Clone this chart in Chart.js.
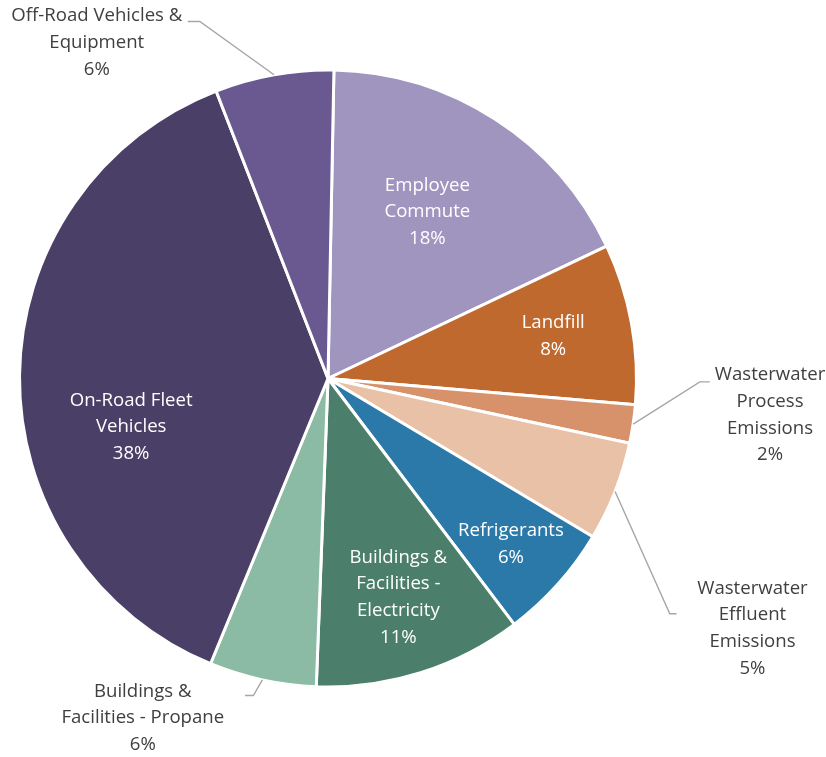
<!DOCTYPE html>
<html>
<head>
<meta charset="utf-8">
<script src="https://cdn.jsdelivr.net/npm/chart.js@4/dist/chart.umd.min.js"></script>
<style>
  html, body { margin: 0; padding: 0; background: #ffffff; }
  #wrap { width: 826px; height: 757px; }
</style>
</head>
<body>
<div id="wrap"><canvas id="pie" width="826" height="757"></canvas></div>
<script>
// Emission sources, clockwise from the top
const categories = [
  'Employee\nCommute',
  'Landfill',
  'Wasterwater\nProcess\nEmissions',
  'Wasterwater\nEffluent\nEmissions',
  'Refrigerants',
  'Buildings &\nFacilities -\nElectricity',
  'Buildings &\nFacilities - Propane',
  'On-Road Fleet\nVehicles',
  'Off-Road Vehicles &\nEquipment'
];
// Share of total emissions (%)
const shares = [17.6, 8.4, 2.0, 5.2, 6.1, 10.9, 5.6, 37.8, 6.2];
const sliceColors = [
  '#9f95bf', '#c0692e', '#d8926b', '#e8c1a7', '#2a79a8',
  '#4b7f6b', '#8bbba5', '#4a3f66', '#6a5891'
];

// Label placement: 'in' labels sit at an offset from the pie centre (in radii);
// 'out' labels hang off the slice edge with a leader line (pixel offsets).
const labelLayout = [
  { mode: 'in', fx: 0.322, fy: -0.544 },
  { mode: 'in', fx: 0.730, fy: -0.142 },
  { mode: 'out', elbow: [66.7, -42.2], tail: [76.7, -42.2], text: [136.9, -43.9] },
  { mode: 'out', elbow: [54.7, 122.3], tail: [61.4, 122.3], text: [137.4, 102.3] },
  { mode: 'in', fx: 0.593, fy: 0.532 },
  { mode: 'in', fx: 0.228, fy: 0.705 },
  { mode: 'out', elbow: [-9, 15.6], tail: [-17.3, 15.6], text: [-119.6, 16.6] },
  { mode: 'in', fx: -0.638, fy: 0.153 },
  { mode: 'out', elbow: [-74.2, -53.3], tail: [-86.2, -53.3], text: [-177.2, -53.6] }
];

const FONT = '18.6px "Open Sans", sans-serif';
const LINE_H = 26.7;
const CAP_HALF = 6.6;

const sliceLabels = {
  id: 'sliceLabels',
  afterDatasetsDraw(chart) {
    const ctx = chart.ctx;
    const meta = chart.getDatasetMeta(0);
    const values = chart.data.datasets[0].data;
    const total = values.reduce((a, b) => a + b, 0);
    ctx.save();
    ctx.font = FONT;
    ctx.textAlign = 'center';
    ctx.textBaseline = 'alphabetic';
    meta.data.forEach((arc, i) => {
      const p = arc.getProps(['x', 'y', 'startAngle', 'endAngle', 'outerRadius'], true);
      const lines = chart.data.labels[i].split('\n');
      lines.push(Math.round(values[i] / total * 100) + '%');
      const lay = labelLayout[i];
      if (lay.mode === 'in') {
        const cx = p.x + lay.fx * p.outerRadius;
        const cy = p.y + lay.fy * p.outerRadius;
        const firstBase = cy + CAP_HALF - (lines.length - 1) * LINE_H / 2;
        ctx.fillStyle = '#ffffff';
        lines.forEach((t, k) => ctx.fillText(t, cx, firstBase + k * LINE_H));
      } else {
        const mid = (p.startAngle + p.endAngle) / 2;
        const ex = p.x + Math.cos(mid) * p.outerRadius;
        const ey = p.y + Math.sin(mid) * p.outerRadius;
        ctx.strokeStyle = '#a6a6a6';
        ctx.lineWidth = 1.4;
        ctx.beginPath();
        ctx.moveTo(ex, ey);
        ctx.lineTo(ex + lay.elbow[0], ey + lay.elbow[1]);
        ctx.lineTo(ex + lay.tail[0], ey + lay.tail[1]);
        ctx.stroke();
        ctx.fillStyle = '#404040';
        const tx = ex + lay.text[0];
        const ty = ey + lay.text[1];
        lines.forEach((t, k) => ctx.fillText(t, tx, ty + k * LINE_H));
      }
    });
    ctx.restore();
  }
};

new Chart(document.getElementById('pie'), {
  type: 'pie',
  data: {
    labels: categories,
    datasets: [{
      data: shares,
      backgroundColor: sliceColors,
      borderColor: '#ffffff',
      borderWidth: 3,
      hoverBorderWidth: 3,
      hoverOffset: 0
    }]
  },
  options: {
    responsive: false,
    animation: false,
    rotation: 1.1,
    layout: { padding: { left: 18, right: 188, top: 68.5, bottom: 68.5 } },
    plugins: {
      legend: { display: false },
      tooltip: { enabled: false }
    },
    events: []
  },
  plugins: [sliceLabels]
});
</script>
</body>
</html>
